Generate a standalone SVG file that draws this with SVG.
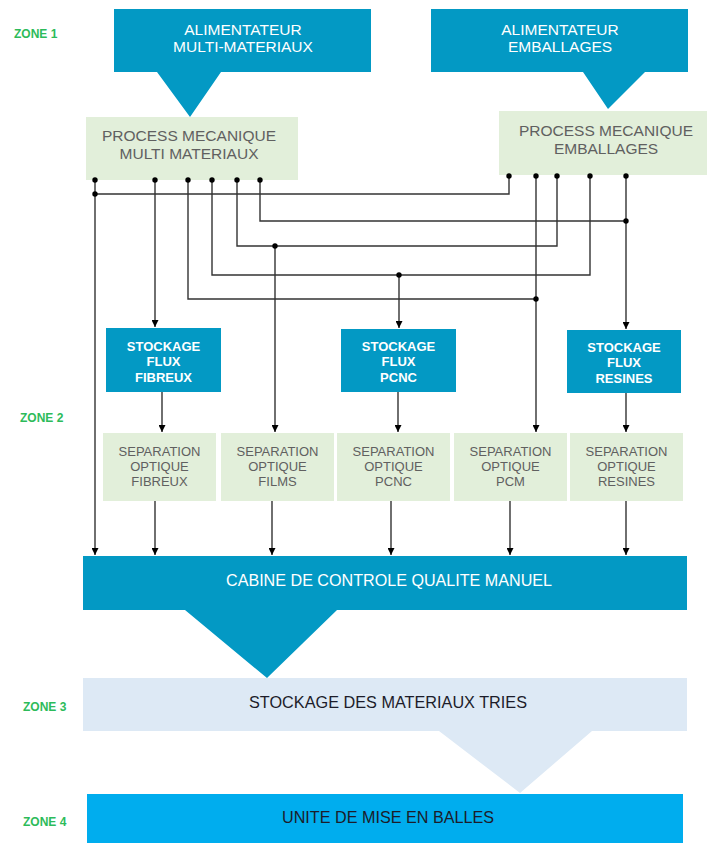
<svg xmlns="http://www.w3.org/2000/svg" width="707" height="843" viewBox="0 0 707 843">
<defs>
<style>
.teal{fill:#0399c4}
.green{fill:#e2efda}
.lblue{fill:#dde9f5}
.cyan{fill:#00adee}
.tw{font-family:"Liberation Sans",Arial,sans-serif;fill:#ffffff;text-anchor:middle}
.tg{font-family:"Liberation Sans",Arial,sans-serif;fill:#606060;text-anchor:middle}
.td{font-family:"Liberation Sans",Arial,sans-serif;fill:#1c1c2a;text-anchor:middle}
.zone{font-family:"Liberation Sans",Arial,sans-serif;font-weight:bold;font-size:12px;fill:#2dbb5a}
.st{font-size:13px;font-weight:bold}
.sep{font-size:13px}
.conn{fill:none;stroke:#333;stroke-width:1.4}
.arr{marker-end:url(#ah)}
.dot{fill:#000}
</style>
<marker id="ah" markerWidth="7" markerHeight="7" refX="7" refY="3.5" orient="auto" markerUnits="userSpaceOnUse">
<path d="M0,0 L7,3.5 L0,7 z" fill="#000"/>
</marker>
</defs>
<rect width="707" height="843" fill="#fff"/>

<g id="zones">
<text class="zone" x="14" y="37.5">ZONE 1</text>
<text class="zone" x="20" y="421.5">ZONE 2</text>
<text class="zone" x="23" y="710.5">ZONE 3</text>
<text class="zone" x="23" y="825.5">ZONE 4</text>
</g>

<g id="alim-multi">
<path class="teal" d="M114,9 H371 V72 H221 L190,117 L157,72 H114 Z"/>
<text class="tw" x="243" y="34.5" font-size="15.5">ALIMENTATEUR</text>
<text class="tw" x="243" y="51.5" font-size="15.5">MULTI-MATERIAUX</text>
</g>

<g id="alim-emb">
<path class="teal" d="M431,9 H688 V72 H645 L608,109 L583,72 H431 Z"/>
<text class="tw" x="560" y="34.5" font-size="15.5">ALIMENTATEUR</text>
<text class="tw" x="560" y="51.5" font-size="15.5">EMBALLAGES</text>
</g>

<g id="process-multi">
<rect class="green" x="86" y="117" width="212" height="63"/>
<text class="tg" x="189" y="140.5" font-size="15.5">PROCESS MECANIQUE</text>
<text class="tg" x="189" y="158.5" font-size="15.5">MULTI MATERIAUX</text>
</g>

<g id="process-emb">
<rect class="green" x="499" y="111" width="208" height="64"/>
<text class="tg" x="606" y="135.5" font-size="15.5">PROCESS MECANIQUE</text>
<text class="tg" x="606" y="153.5" font-size="15.5">EMBALLAGES</text>
</g>

<g id="stock-fibreux">
<rect class="teal" x="106" y="328" width="115" height="64"/>
<text class="tw st" x="163.5" y="350.5">STOCKAGE</text>
<text class="tw st" x="163.5" y="365.5">FLUX</text>
<text class="tw st" x="163.5" y="381.5">FIBREUX</text>
</g>

<g id="stock-pcnc">
<rect class="teal" x="341" y="329" width="115" height="63"/>
<text class="tw st" x="398.5" y="351">STOCKAGE</text>
<text class="tw st" x="398.5" y="366">FLUX</text>
<text class="tw st" x="398.5" y="381.5">PCNC</text>
</g>

<g id="stock-resines">
<rect class="teal" x="567" y="330" width="114" height="63"/>
<text class="tw st" x="624" y="351.5">STOCKAGE</text>
<text class="tw st" x="624" y="367">FLUX</text>
<text class="tw st" x="624" y="382.5">RESINES</text>
</g>

<g id="sep-fibreux">
<rect class="green" x="103" y="433" width="113" height="68"/>
<text class="tg sep" x="159.5" y="455.5">SEPARATION</text>
<text class="tg sep" x="159.5" y="470.5">OPTIQUE</text>
<text class="tg sep" x="159.5" y="485.5">FIBREUX</text>
</g>

<g id="sep-films">
<rect class="green" x="221" y="433" width="113" height="68"/>
<text class="tg sep" x="277.5" y="455.5">SEPARATION</text>
<text class="tg sep" x="277.5" y="470.5">OPTIQUE</text>
<text class="tg sep" x="277.5" y="485.5">FILMS</text>
</g>

<g id="sep-pcnc">
<rect class="green" x="337" y="433" width="113" height="68"/>
<text class="tg sep" x="393.5" y="455.5">SEPARATION</text>
<text class="tg sep" x="393.5" y="470.5">OPTIQUE</text>
<text class="tg sep" x="393.5" y="485.5">PCNC</text>
</g>

<g id="sep-pcm">
<rect class="green" x="454" y="433" width="113" height="68"/>
<text class="tg sep" x="510.5" y="455.5">SEPARATION</text>
<text class="tg sep" x="510.5" y="470.5">OPTIQUE</text>
<text class="tg sep" x="510.5" y="485.5">PCM</text>
</g>

<g id="sep-resines">
<rect class="green" x="570" y="433" width="113" height="68"/>
<text class="tg sep" x="626.5" y="455.5">SEPARATION</text>
<text class="tg sep" x="626.5" y="470.5">OPTIQUE</text>
<text class="tg sep" x="626.5" y="485.5">RESINES</text>
</g>

<g id="cabine">
<path class="teal" d="M83,556 H687 V610 H337 L267,678 L185,610 H83 Z"/>
<text class="tw" x="389" y="586" font-size="17" textLength="326" lengthAdjust="spacingAndGlyphs">CABINE DE CONTROLE QUALITE MANUEL</text>
</g>

<g id="stockage-tries">
<path class="lblue" d="M83,678 H687 V731 H592 L520,793 L439,731 H83 Z"/>
<text class="td" x="388" y="708" font-size="17" textLength="278" lengthAdjust="spacingAndGlyphs">STOCKAGE DES MATERIAUX TRIES</text>
</g>

<g id="unite">
<rect class="cyan" x="87" y="794" width="596" height="49"/>
<text class="td" x="388" y="823" font-size="17" textLength="212" lengthAdjust="spacingAndGlyphs">UNITE DE MISE EN BALLES</text>
</g>

<g id="connectors">
<path class="conn arr" d="M95,180 V555"/>
<path class="conn" d="M95,194 H509 V176"/>
<path class="conn arr" d="M155,180 V327"/>
<path class="conn" d="M188,180 V299 H536"/>
<path class="conn arr" d="M536,176 V432"/>
<path class="conn" d="M212,180 V275 H590 V176"/>
<path class="conn arr" d="M399,275 V328"/>
<path class="conn" d="M237,180 V246 H557 V176"/>
<path class="conn arr" d="M275,246 V432"/>
<path class="conn" d="M260,180 V221 H626"/>
<path class="conn arr" d="M626,176 V329"/>
<path class="conn arr" d="M162,392 V432"/>
<path class="conn arr" d="M398,392 V432"/>
<path class="conn arr" d="M626,393 V432"/>
<path class="conn arr" d="M155,501 V555"/>
<path class="conn arr" d="M272,501 V555"/>
<path class="conn arr" d="M391,501 V555"/>
<path class="conn arr" d="M510,501 V555"/>
<path class="conn arr" d="M626,501 V555"/>
<circle class="dot" cx="95" cy="180" r="2.7"/>
<circle class="dot" cx="95" cy="194" r="2.7"/>
<circle class="dot" cx="155" cy="180" r="2.7"/>
<circle class="dot" cx="188" cy="180" r="2.7"/>
<circle class="dot" cx="212" cy="180" r="2.7"/>
<circle class="dot" cx="237" cy="180" r="2.7"/>
<circle class="dot" cx="260" cy="180" r="2.7"/>
<circle class="dot" cx="509" cy="176" r="2.7"/>
<circle class="dot" cx="536" cy="176" r="2.7"/>
<circle class="dot" cx="557" cy="176" r="2.7"/>
<circle class="dot" cx="590" cy="176" r="2.7"/>
<circle class="dot" cx="626" cy="176" r="2.7"/>
<circle class="dot" cx="626" cy="221" r="2.7"/>
<circle class="dot" cx="275" cy="246" r="2.7"/>
<circle class="dot" cx="399" cy="275" r="2.7"/>
<circle class="dot" cx="536" cy="299" r="2.7"/>
</g>
</svg>
